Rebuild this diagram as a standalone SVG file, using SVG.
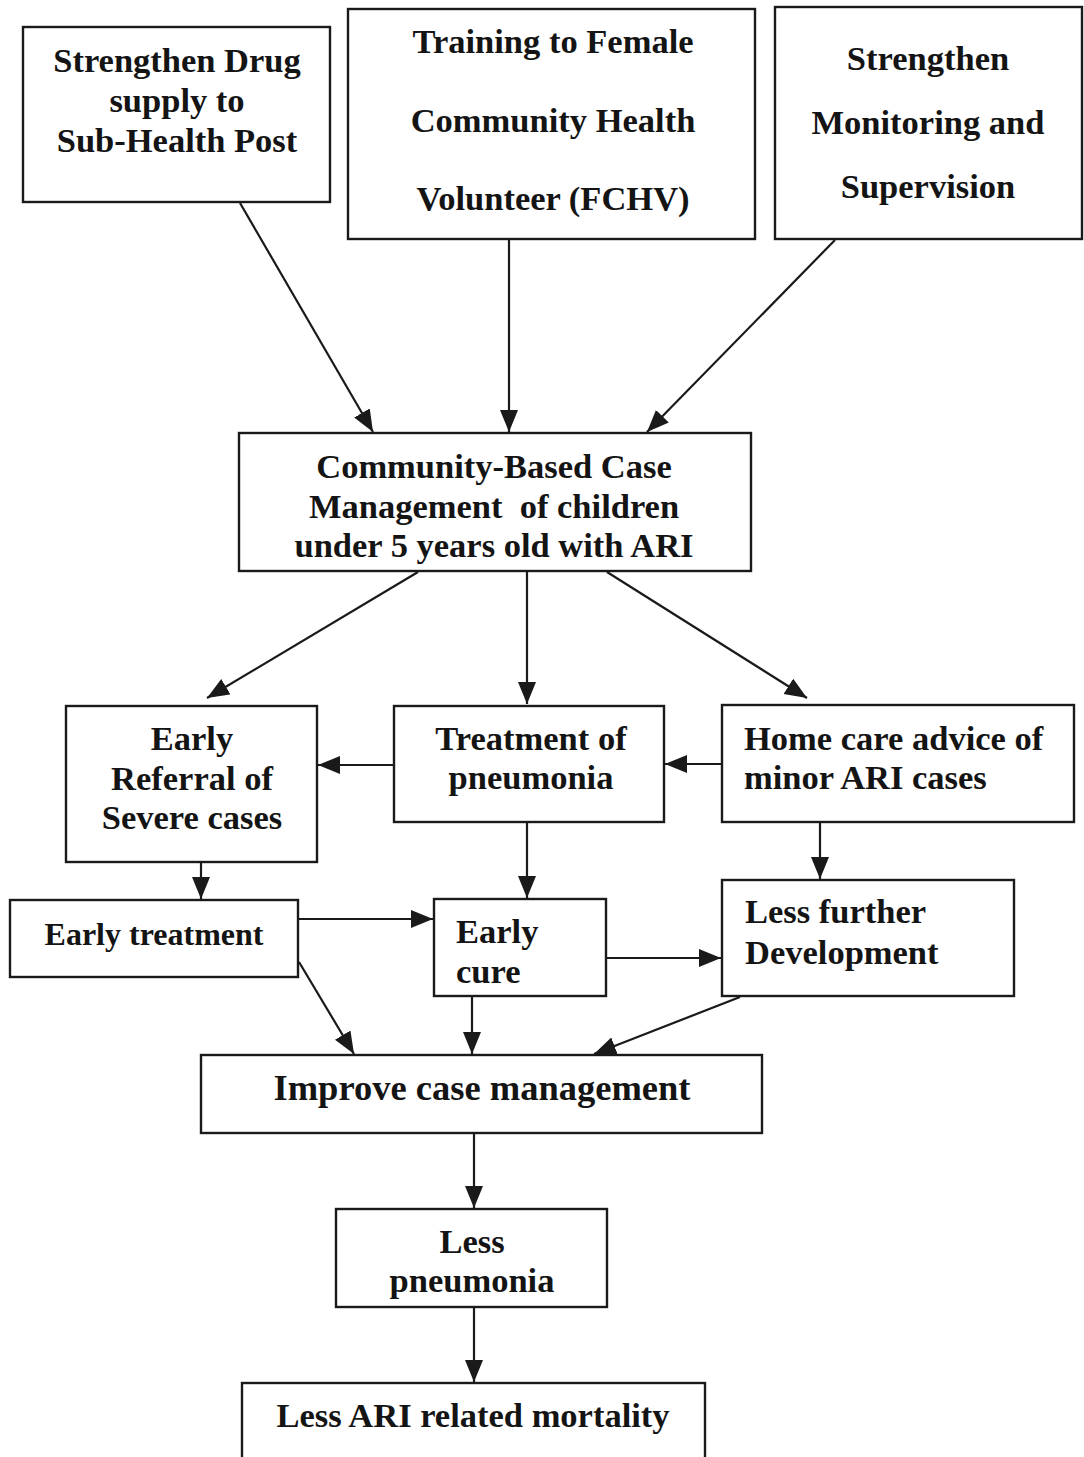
<svg xmlns="http://www.w3.org/2000/svg" width="1084" height="1457" viewBox="0 0 1084 1457">
<style>
.box{fill:#fff;stroke:#1a1a1a;stroke-width:2.4}
.t{font-family:"Liberation Serif","Times New Roman",serif;font-weight:bold;font-size:34.5px;fill:#141414}
.c{text-anchor:middle}
.conn line{stroke:#1a1a1a;stroke-width:2.2;marker-end:url(#ah)}
</style>
<defs>
<marker id="ah" markerUnits="userSpaceOnUse" markerWidth="24" markerHeight="20" refX="22" refY="9" orient="auto">
<path d="M0,0 L22,9 L0,18 z" fill="#1a1a1a"/>
</marker>
</defs>
<rect width="1084" height="1457" fill="#fff"/>

<g id="n_drug">
<rect class="box" x="23" y="27" width="307" height="175"/>
<text class="t c" x="177" y="72">Strengthen Drug</text>
<text class="t c" x="177" y="112">supply to</text>
<text class="t c" x="177" y="152">Sub-Health Post</text>
</g>
<g id="n_training">
<rect class="box" x="348" y="9" width="407" height="230"/>
<text class="t c" x="553" y="53">Training to Female</text>
<text class="t c" x="553" y="132">Community Health</text>
<text class="t c" x="553" y="210">Volunteer (FCHV)</text>
</g>
<g id="n_monitor">
<rect class="box" x="775" y="7" width="307" height="232"/>
<text class="t c" x="928" y="70">Strengthen</text>
<text class="t c" x="928" y="134">Monitoring and</text>
<text class="t c" x="928" y="198">Supervision</text>
</g>
<g id="n_cbcm">
<rect class="box" x="239" y="433" width="512" height="138"/>
<text class="t c" x="494" y="478">Community-Based Case</text>
<text class="t c" x="494" y="518" xml:space="preserve">Management  of children</text>
<text class="t c" x="494" y="557">under 5 years old with ARI</text>
</g>
<g id="n_referral">
<rect class="box" x="66" y="706" width="251" height="156"/>
<text class="t c" x="192" y="750">Early</text>
<text class="t c" x="192" y="790">Referral of</text>
<text class="t c" x="192" y="829">Severe cases</text>
</g>
<g id="n_treatment">
<rect class="box" x="394" y="706" width="270" height="116"/>
<text class="t c" x="531" y="750">Treatment of</text>
<text class="t c" x="531" y="789">pneumonia</text>
</g>
<g id="n_homecare">
<rect class="box" x="722" y="705" width="352" height="117"/>
<text class="t" x="744" y="750">Home care advice of</text>
<text class="t" x="744" y="789">minor ARI cases</text>
</g>
<g id="n_earlytreat">
<rect class="box" x="10" y="900" width="288" height="77"/>
<text class="t c" x="154" y="945" style="font-size:32px">Early treatment</text>
</g>
<g id="n_earlycure">
<rect class="box" x="434" y="899" width="172" height="97"/>
<text class="t" x="456" y="943">Early</text>
<text class="t" x="456" y="983">cure</text>
</g>
<g id="n_lessfurther">
<rect class="box" x="722" y="880" width="292" height="116"/>
<text class="t" x="745" y="923">Less further</text>
<text class="t" x="745" y="964">Development</text>
</g>
<g id="n_improve">
<rect class="box" x="201" y="1055" width="561" height="78"/>
<text class="t c" x="482" y="1100" style="font-size:36.5px">Improve case management</text>
</g>
<g id="n_lesspneu">
<rect class="box" x="336" y="1209" width="271" height="98"/>
<text class="t c" x="472" y="1253">Less</text>
<text class="t c" x="472" y="1292">pneumonia</text>
</g>
<g id="n_mortality">
<rect class="box" x="242" y="1383" width="463" height="90"/>
<text class="t c" x="473" y="1427">Less ARI related mortality</text>
</g>

<g id="connectors" class="conn">
<line x1="240" y1="203" x2="373" y2="432"/>
<line x1="509" y1="240" x2="509" y2="432"/>
<line x1="835" y1="240" x2="647" y2="432"/>
<line x1="418" y1="572" x2="207" y2="698"/>
<line x1="527" y1="572" x2="527" y2="704"/>
<line x1="607" y1="572" x2="807" y2="698"/>
<line x1="394" y1="765" x2="318" y2="765"/>
<line x1="722" y1="764" x2="665" y2="764"/>
<line x1="201" y1="862" x2="201" y2="899"/>
<line x1="527" y1="822" x2="527" y2="898"/>
<line x1="820" y1="822" x2="820" y2="879"/>
<line x1="298" y1="919" x2="433" y2="919"/>
<line x1="606" y1="958" x2="721" y2="958"/>
<line x1="299" y1="962" x2="354" y2="1054"/>
<line x1="472" y1="996" x2="472" y2="1054"/>
<line x1="740" y1="997" x2="594" y2="1054"/>
<line x1="474" y1="1133" x2="474" y2="1208"/>
<line x1="474" y1="1307" x2="474" y2="1382"/>
</g>
</svg>
